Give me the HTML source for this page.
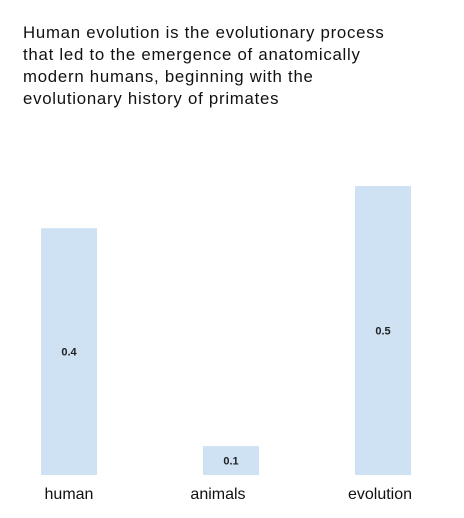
<!DOCTYPE html>
<html><head><meta charset="utf-8"><style>
body{margin:0;width:464px;height:518px;background:#fff;font-family:"Liberation Sans",sans-serif;overflow:hidden}
#title{position:absolute;left:23px;top:22px;white-space:nowrap;font-size:16.8px;line-height:22px;letter-spacing:0.75px;color:#111}
</style></head><body>
<div id="title">Human evolution is the evolutionary process<br>that led to the emergence of anatomically<br>modern humans, beginning with the<br>evolutionary history of primates</div>
<svg id="chart" width="464" height="518" style="position:absolute;left:0;top:0"></svg>
<script>
const categories=["human","animals","evolution"];
const values=[0.427,0.05,0.5];
const svg=document.getElementById('chart');
const NS='http://www.w3.org/2000/svg';
const baseY=475, scale=578;
function x(i){return 69+i*157+(i===1?5:0);}
function y(v){return baseY-v*scale;}
categories.forEach((c,i)=>{
  const r=document.createElementNS(NS,'rect');
  
  
  r.setAttribute('x',x(i)-28);r.setAttribute('width',56);
  r.setAttribute('y',y(values[i]));r.setAttribute('height',baseY-y(values[i]));
  r.setAttribute('fill','#cfe2f3');svg.appendChild(r);
  const t=document.createElementNS(NS,'text');
  
  
  t.setAttribute('x',x(i));t.setAttribute('y',(y(values[i])+baseY)/2+4);
  t.setAttribute('text-anchor','middle');t.setAttribute('font-size','11');
  t.setAttribute('font-weight','bold');t.setAttribute('fill','#222');
  t.textContent=values[i].toFixed(1);svg.appendChild(t);
  const l=document.createElementNS(NS,'text');
  
  
  l.setAttribute('x',x(i)-(i===1?13:i===2?3:0));l.setAttribute('y',499);
  l.setAttribute('text-anchor','middle');l.setAttribute('font-size','16');
  l.setAttribute('fill','#111');l.textContent=c;svg.appendChild(l);
});
</script>
</body></html>
